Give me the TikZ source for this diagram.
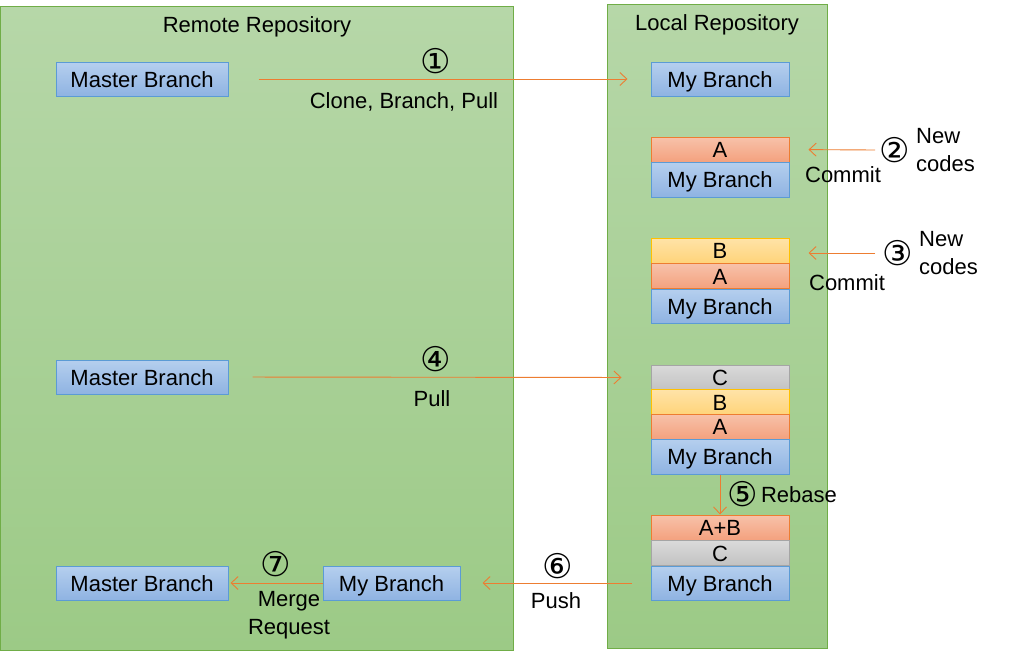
\documentclass[tikz,border=0pt]{standalone}
\usepackage{fontspec}
\setmainfont{Liberation Sans}
\newfontfamily\circfont{DejaVu Sans}
\usetikzlibrary{arrows.meta}
\definecolor{pantop}{HTML}{B6D7A8}
\definecolor{panbot}{HTML}{9CCA86}
\definecolor{panborder}{HTML}{70AD47}
\definecolor{bluetop}{HTML}{B5CFEE}
\definecolor{bluebot}{HTML}{8FB3E2}
\definecolor{blueborder}{HTML}{5B9BD5}
\definecolor{orgtop}{HTML}{F7C2AA}
\definecolor{orgbot}{HTML}{F4A17E}
\definecolor{orgborder}{HTML}{ED7D31}
\definecolor{yeltop}{HTML}{FFE3A8}
\definecolor{yelbot}{HTML}{FFD47A}
\definecolor{yelborder}{HTML}{FFC000}
\definecolor{graytop}{HTML}{DADADA}
\definecolor{graybot}{HTML}{C2C2C2}
\definecolor{grayborder}{HTML}{A5A5A5}
\tikzset{
  txt/.style={font=\fontsize{22}{26}\selectfont, inner sep=0pt, text=black, text height=18pt, text depth=2pt},
  ml/.style={font=\fontsize{22}{28}\selectfont, inner sep=0pt, text=black},
  circ/.style={font=\circfont\fontsize{34}{38}\selectfont, inner sep=0pt, text=black},
  bluebox/.style={txt, rectangle, draw=blueborder, line width=1pt, top color=bluetop, bottom color=bluebot, minimum height=34pt},
  cellA/.style={txt, rectangle, draw=orgborder, line width=1pt, top color=orgtop, bottom color=orgbot, minimum width=138pt, minimum height=25pt},
  cellB/.style={txt, rectangle, draw=yelborder, line width=1pt, top color=yeltop, bottom color=yelbot, minimum width=138pt, minimum height=25pt},
  cellC/.style={txt, rectangle, draw=grayborder, line width=1pt, top color=graytop, bottom color=graybot, minimum width=138pt, minimum height=25pt},
  arr/.style={draw=orgborder, line width=0.9pt, -{Straight Barb[length=7pt,width=13pt,line width=0.9pt]}},
  panel/.style={draw=panborder, line width=1pt, top color=pantop, bottom color=panbot}
}
\begin{document}
\begin{tikzpicture}[x=1pt,y=-1pt]
\useasboundingbox (0,0) rectangle (1017,659);
\fill[white] (0,0) rectangle (1017,659);
% panels
\path[panel] (0.5,6) rectangle (513,650);
\path[panel] (607,4) rectangle (827,648);
\node[txt] (rtitle) at (257,24) {Remote Repository};
\node[txt] (ltitle) at (717,22) {Local Repository};
% remote boxes
\node[bluebox, minimum width=172pt] (m1) at (142,79) {Master Branch};
\node[bluebox, minimum width=172pt] (m2) at (142,377) {Master Branch};
\node[bluebox, minimum width=172pt] (m3) at (142,583) {Master Branch};
\node[bluebox, minimum width=137pt] (rm) at (391.5,583) {My Branch};
% local stack 1
\node[bluebox, minimum width=138pt] (l1) at (720,79) {My Branch};
% stack 2
\node[cellA] (a2) at (720,149.5) {A};
\node[bluebox, minimum width=138pt, minimum height=35pt] (mb2) at (720,179.5) {My Branch};
% stack 3
\node[cellB] (b3) at (720,250.5) {B};
\node[cellA] (a3) at (720,276) {A};
\node[bluebox, minimum width=138pt, minimum height=34pt] (mb3) at (720,306) {My Branch};
% stack 4
\node[cellC] (c4) at (720,377.5) {C};
\node[cellB] (b4) at (720,402) {B};
\node[cellA] (a4) at (720,426.5) {A};
\node[bluebox, minimum width=138pt, minimum height=35pt] (mb4) at (720,456.5) {My Branch};
% stack 5
\node[cellA] (ab5) at (720,527.5) {A+B};
\node[cellC] (c5) at (720,553) {C};
\node[bluebox, minimum width=138pt, minimum height=34pt] (mb5) at (720,583) {My Branch};
% arrow 1
\draw[arr, shorten <=30pt, shorten >=23pt] (m1.east) -- (l1.west);
\node[circ] (n1) at (436,61) {①};
\node[txt] (t1) at (404,100) {Clone, Branch, Pull};
% arrow 2
\coordinate (c2) at (875,150);
\draw[arr, shorten >=19pt] (c2) -- (a2.east);
\node[circ] (n2) at (895,150) {②};
\node[ml, align=left, anchor=west] (t2) at (916,150) {New\\codes};
\node[txt] (cm2) at (843,174) {Commit};
% arrow 3
\coordinate (c3) at (875,253);
\draw[arr, shorten >=19pt] (c3) -- (b3.east |- c3);
\node[circ] (n3) at (898,253) {③};
\node[ml, align=left, anchor=west] (t3) at (919,253) {New\\codes};
\node[txt] (cm3) at (847,282) {Commit};
% arrow 4
\draw[arr, shorten <=24pt, shorten >=29pt] (m2.east) -- (c4.west);
\node[circ] (n4) at (436,359) {④};
\node[txt] (t4) at (432,398) {Pull};
% arrow 5
\draw[arr] (mb4.south) -- (ab5.north);
\node[circ] (n5) at (743,494) {⑤};
\node[txt] (t5) at (799,494) {Rebase};
% arrow 6
\coordinate (c6) at (632,583);
\draw[arr, shorten >=22pt] (c6) -- (rm.east);
\node[circ] (n6) at (558,566) {⑥};
\node[txt] (t6) at (556,600) {Push};
% arrow 7
\draw[arr, shorten >=2pt] (rm.west) -- (m3.east);
\node[circ] (n7) at (276,564) {⑦};
\node[ml, align=center] (t7) at (289,615) {Merge\\Request};
\end{tikzpicture}
\end{document}
